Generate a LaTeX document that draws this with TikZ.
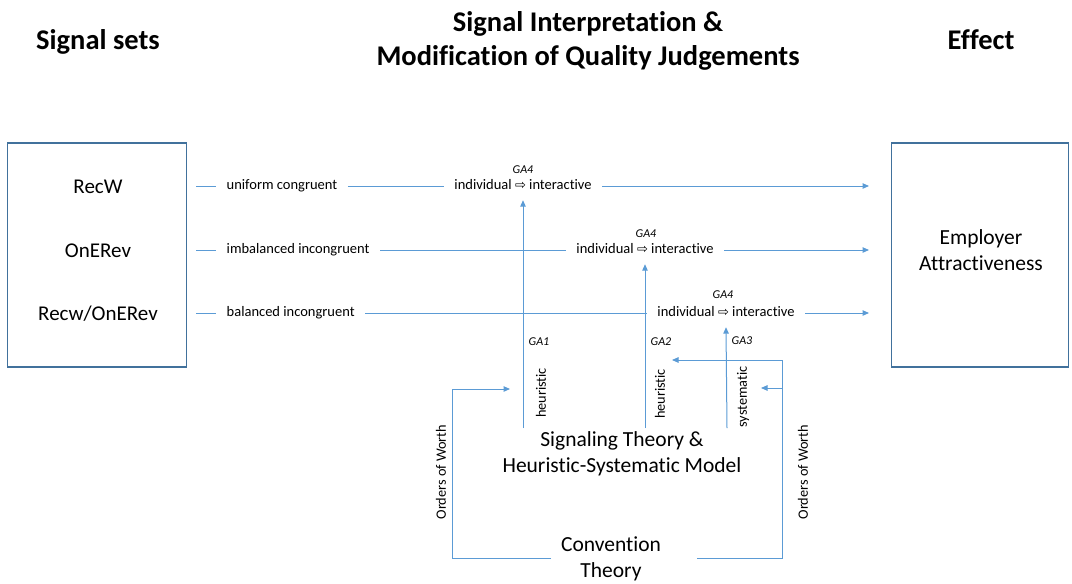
\documentclass[tikz,border=0pt]{standalone}
\usepackage{fontspec}
\setmainfont{Carlito}[Ligatures=NoCommon]
\newfontfamily\symfont{DejaVu Sans}
\usetikzlibrary{arrows.meta}
\definecolor{lineblue}{HTML}{5B9BD5}
\definecolor{boxblue}{HTML}{41719C}
\newcommand{\ra}{{\symfont\fontsize{13}{13}\selectfont ⇨}}
\tikzset{
  conn/.style={draw=lineblue, line width=1pt},
  arr/.style={conn, -{Triangle[length=6.5pt,width=5.5pt]}},
  frame/.style={draw=boxblue, line width=1.3pt},
  rowtxt/.style={inner xsep=10.5pt, inner ysep=7.4pt, text height=10pt, text depth=3.2pt, font=\fontsize{14.5}{17}\selectfont},
  galab/.style={inner sep=0pt, font=\fontsize{12}{14}\selectfont\itshape},
  vlab/.style={inner sep=0pt, rotate=90, font=\fontsize{14.3}{17}\selectfont},
  boxtxt/.style={inner sep=0pt, anchor=base, font=\fontsize{21}{25}\selectfont},
  bigtxt/.style={inner sep=0pt, anchor=base, align=center, font=\fontsize{21.5}{26}\selectfont},
  ttl/.style={inner sep=0pt, anchor=base, align=center, font=\fontsize{28.5}{34}\selectfont\bfseries},
}
\begin{document}
\begin{tikzpicture}[x=1pt,y=-1pt]
\useasboundingbox (0,0) rectangle (1072,584);
% titles (anchor base = last line's baseline)
\node[ttl] (tl) at (98,49) {Signal sets};
\node[ttl] (tm) at (588,65) {Signal Interpretation \&\\Modification of Quality Judgements};
\node[ttl] (tr) at (981,49) {Effect};
% boxes
\node[frame, minimum width=179pt, minimum height=224pt, inner sep=0pt] (lbox) at (97,255) {};
\node[frame, minimum width=177pt, minimum height=224pt, inner sep=0pt] (rbox) at (980,255) {};
\node[boxtxt] (s1) at (98,193) {RecW};
\node[boxtxt] (s2) at (98,257) {OnERev};
\node[boxtxt] (s3) at (98,320) {Recw/OnERev};
\node[bigtxt] (eff) at (981,270) {Employer\\Attractiveness};
% row texts
\node[rowtxt, anchor=west] (t1) at (216,186) {uniform congruent};
\node[rowtxt, anchor=west] (t2) at (216,250) {imbalanced incongruent};
\node[rowtxt, anchor=west] (t3) at (216,313) {balanced incongruent};
\node[rowtxt] (i1) at (523,186) {individual \ra{} interactive};
\node[rowtxt] (i2) at (645,250) {individual \ra{} interactive};
\node[rowtxt] (i3) at (726,313) {individual \ra{} interactive};
\node[galab] (g41) at (523,170) {GA4};
\node[galab] (g42) at (646,234) {GA4};
\node[galab] (g43) at (723,295) {GA4};
% row connectors
\coordinate (r1s) at (196,186);
\coordinate (r2s) at (196,250);
\coordinate (r3s) at (196,313);
\coordinate (r1e) at (869,186);
\coordinate (r2e) at (869,250);
\coordinate (r3e) at (869,313);
\draw[conn] (r1s) -- (t1.west);
\draw[conn] (t1.east) -- (i1.west);
\draw[arr] (i1.east) -- (r1e);
\draw[conn] (r2s) -- (t2.west);
\draw[conn] (t2.east) -- (i2.west);
\draw[arr] (i2.east) -- (r2e);
\draw[conn] (r3s) -- (t3.west);
\draw[conn] (t3.east) -- (i3.west);
\draw[arr] (i3.east) -- (r3e);
% lower theory nodes
\node[bigtxt] (sig) at (622,472) {Signaling Theory \&\\Heuristic-Systematic Model};
\node[bigtxt] (conv) at (611,577) {Convention\\Theory};
% verticals
\coordinate (v1) at (523,428);
\coordinate (v2) at (645,428);
\coordinate (v3) at (727,428);
\draw[arr] (v1) -- (i1.south);
\draw[arr] (v2) -- (i2.south);
\draw[arr] (v3) -- (i3.south);
\node[galab] (ga1) at (539,342) {GA1};
\node[galab] (ga2) at (661,342) {GA2};
\node[galab] (ga3) at (742,341) {GA3};
\node[vlab] (h1) at (541,393) {heuristic};
\node[vlab] (h2) at (660,394) {heuristic};
\node[vlab] (h3) at (743,397) {systematic};
% convention loops
\coordinate (cL) at (551,558);
\coordinate (cR) at (697,558);
\coordinate (aL) at (510,389);
\coordinate (jT) at (782,360);
\coordinate (aT) at (672,360);
\coordinate (jR) at (782,388);
\coordinate (aR) at (761,388);
\draw[arr] (cL) -- ++(-99,0) |- (aL);
\draw[arr] (cR) -| (jT) -- (aT);
\draw[arr] (jR) -- (aR);
\node[vlab] (ow1) at (441,472) {Orders of Worth};
\node[vlab] (ow2) at (803,472) {Orders of Worth};
\end{tikzpicture}
\end{document}
